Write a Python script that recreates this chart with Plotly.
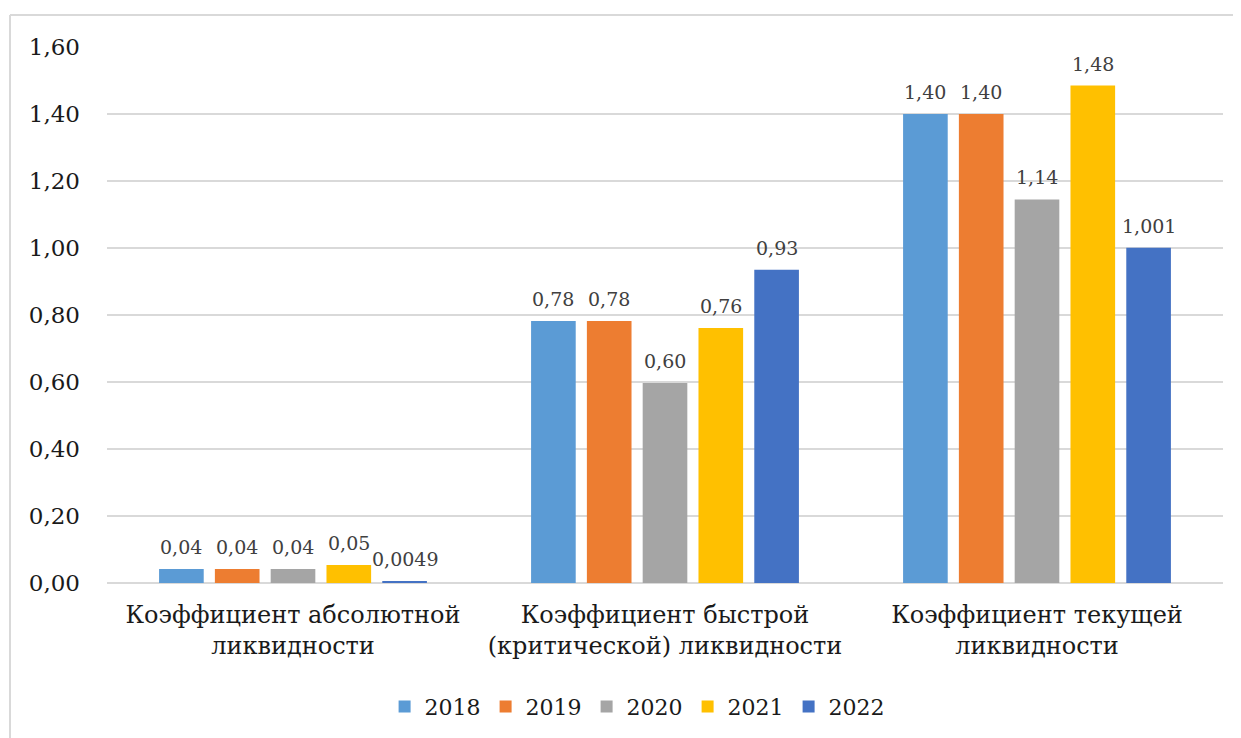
import plotly.graph_objects as go

categories = [
    "Коэффициент абсолютной<br>ликвидности",
    "Коэффициент быстрой<br>(критической) ликвидности",
    "Коэффициент текущей<br>ликвидности",
]
years = ["2018", "2019", "2020", "2021", "2022"]
colors = ["#5B9BD5", "#ED7D31", "#A5A5A5", "#FFC000", "#4472C4"]

values = {
    "2018": [0.042, 0.782, 1.40],
    "2019": [0.042, 0.782, 1.40],
    "2020": [0.042, 0.597, 1.145],
    "2021": [0.054, 0.761, 1.485],
    "2022": [0.0049, 0.935, 1.001],
}
labels = {
    "2018": ["0,04", "0,78", "1,40"],
    "2019": ["0,04", "0,78", "1,40"],
    "2020": ["0,04", "0,60", "1,14"],
    "2021": ["0,05", "0,76", "1,48"],
    "2022": ["0,0049", "0,93", "1,001"],
}

SERIF = "DejaVu Serif"
BARGAP = 0.25
BARGROUPGAP = 0.2

fig = go.Figure()

for year, color in zip(years, colors):
    fig.add_trace(go.Bar(
        x=categories,
        y=values[year],
        name=year,
        marker=dict(color=color, line=dict(width=0)),
    ))

# data labels, placed over each bar slot of the grouped layout
n = len(years)
slot = (1 - BARGAP) / n
for i, year in enumerate(years):
    off = -(1 - BARGAP) / 2 + (i + 0.5) * slot
    for j, (v, t) in enumerate(zip(values[year], labels[year])):
        fig.add_annotation(
            x=j + off, y=v, xref="x", yref="y",
            text=t, showarrow=False,
            yanchor="bottom", yshift=9,
            font=dict(family=SERIF, size=19, color="#404040"),
        )

# outer chart border (left and top edges visible)
bx = (10 - 107) / 1116
by = 1 + (47 - 15) / 536
fig.add_shape(type="line", xref="paper", yref="paper", x0=bx, x1=bx, y0=-1, y1=by,
              line=dict(color="#d9d9d9", width=2))
fig.add_shape(type="line", xref="paper", yref="paper", x0=bx, x1=1.2, y0=by, y1=by,
              line=dict(color="#d9d9d9", width=2))

fig.update_layout(
    width=1241,
    height=738,
    margin=dict(l=99, r=26, t=39, b=163),
    paper_bgcolor="white",
    plot_bgcolor="white",
    font=dict(family=SERIF, size=23, color="#1a1a1a"),
    barmode="group",
    bargap=BARGAP,
    bargroupgap=BARGROUPGAP,
    showlegend=True,
    legend=dict(
        orientation="h",
        x=0.475, xanchor="center",
        y=-0.231, yanchor="middle",
        font=dict(family=SERIF, size=22, color="#1a1a1a"),
    ),
    xaxis=dict(
        showgrid=False,
        showline=False,
        ticks="",
        tickfont=dict(family=SERIF, size=24),
        ticklabelstandoff=15,
    ),
    yaxis=dict(
        range=[0, 1.6],
        dtick=0.2,
        tickformat=".2f",
        showgrid=True,
        gridcolor="#d9d9d9",
        gridwidth=1.5,
        zeroline=True,
        zerolinecolor="#d9d9d9",
        zerolinewidth=1.5,
        showline=False,
        ticks="",
        tickfont=dict(family=SERIF, size=23),
        ticklabelstandoff=26,
    ),
    separators=", ",
)

fig.write_html("out.html")
